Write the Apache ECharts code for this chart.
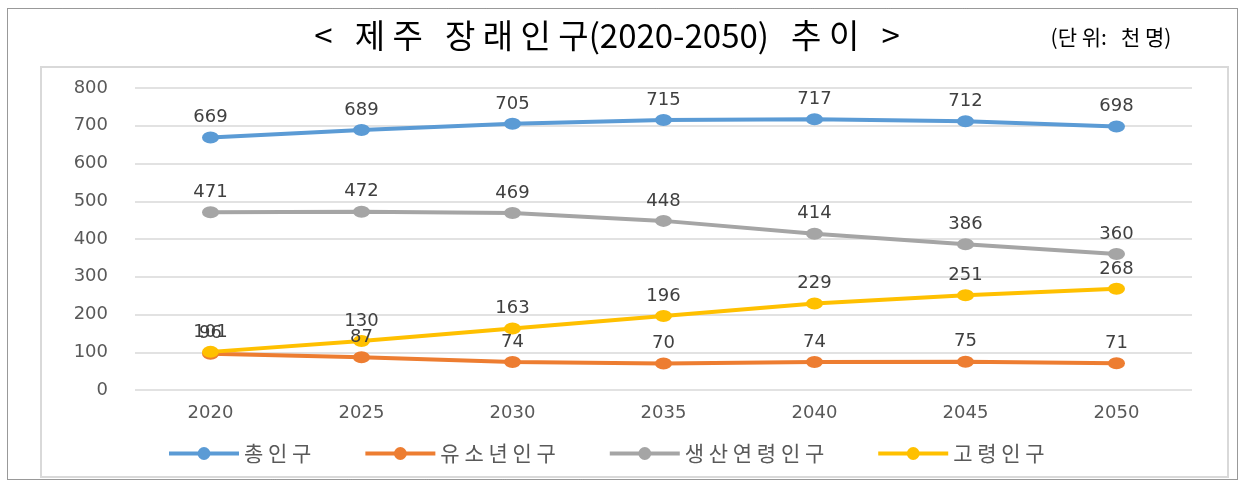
<!DOCTYPE html>
<html>
<head>
<meta charset="utf-8">
<script src="https://cdn.jsdelivr.net/npm/echarts@6/dist/echarts.min.js"></script>
<style>
  html, body { margin: 0; padding: 0; background: #fff; }
  #main { width: 1240px; height: 481px; }
</style>
</head>
<body>
<div id="main"></div>
<script>
// years on the x axis
const years = ['2020', '2025', '2030', '2035', '2040', '2045', '2050'];
// population, thousand people
const total = [669, 689, 705, 715, 717, 712, 698];
const youth = [96, 87, 74, 70, 74, 75, 71];
const working = [471, 472, 469, 448, 414, 386, 360];
const elderly = [101, 130, 163, 196, 229, 251, 268];

const seriesNames = ['총인구', '유소년인구', '생산연령인구', '고령인구'];
const colors = ['#5B9BD5', '#ED7D31', '#A5A5A5', '#FFC000'];

// korean text in the picture is drawn with wide letter spacing
function spaced(s) {
  return s.split('').join(' ');
}

let chart = echarts.init(document.getElementById('main'));

function mkSeries(name, values, color) {
  return {
    name: name,
    type: 'line',
    data: values,
    symbol: 'circle',
    symbolSize: [17, 12],
    lineStyle: { width: 4, color: color },
    itemStyle: { color: color },
    label: {
      show: true,
      position: 'top',
      distance: 5,
      color: '#404040',
      fontSize: 18,
      fontFamily: 'DejaVu Sans'
    }
  };
}

const option = {
  backgroundColor: '#fff',
  animation: false,
  color: colors,
  graphic: [
    {
      type: 'rect',
      shape: { x: 7.5, y: 8.5, width: 1230, height: 471 },
      style: { fill: 'none', stroke: '#333', lineWidth: 1, lineDash: [1, 1] },
      silent: true
    },
    {
      type: 'rect',
      shape: { x: 41, y: 67, width: 1187, height: 410 },
      style: { fill: 'none', stroke: '#d9d9d9', lineWidth: 2 },
      silent: true
    },
    {
      type: 'text',
      x: 607,
      y: 35,
      style: {
        text: '<   ' + spaced('제주') + '   ' + spaced('장래인구') + '(2020-2050)   ' + spaced('추이') + '   >',
        fontSize: 33,
        fontFamily: 'Noto Sans CJK KR',
        fill: '#000',
        align: 'center',
        verticalAlign: 'middle'
      }
    },
    {
      type: 'text',
      x: 1111,
      y: 37,
      style: {
        text: '(' + spaced('단위') + ':   ' + spaced('천명') + ')',
        fontSize: 21,
        fontFamily: 'Noto Sans CJK KR',
        fill: '#000',
        align: 'center',
        verticalAlign: 'middle'
      }
    }
  ],
  legend: {
    top: 438,
    left: 162,
    itemWidth: 70,
    itemHeight: 16,
    itemGap: 52,
    data: seriesNames,
    lineStyle: { width: 4 },
    formatter: function (name) {
      return spaced(name);
    },
    textStyle: { fontSize: 21, color: '#595959', fontFamily: 'Noto Sans CJK KR' }
  },
  grid: { left: 135, right: 48, top: 88, bottom: 91 },
  xAxis: {
    type: 'category',
    data: years,
    axisLine: { show: false },
    axisTick: { show: false },
    axisLabel: { color: '#595959', fontSize: 18, margin: 14, fontFamily: 'DejaVu Sans' }
  },
  yAxis: {
    type: 'value',
    min: 0,
    max: 800,
    interval: 100,
    axisLine: { show: false },
    axisTick: { show: false },
    splitLine: { lineStyle: { color: '#d9d9d9', width: 1.5 } },
    axisLabel: { color: '#595959', fontSize: 18, margin: 27, fontFamily: 'DejaVu Sans' }
  },
  series: [
    mkSeries(seriesNames[0], total, colors[0]),
    mkSeries(seriesNames[1], youth, colors[1]),
    mkSeries(seriesNames[2], working, colors[2]),
    mkSeries(seriesNames[3], elderly, colors[3])
  ]
};

chart.setOption(option);
</script>
</body>
</html>
